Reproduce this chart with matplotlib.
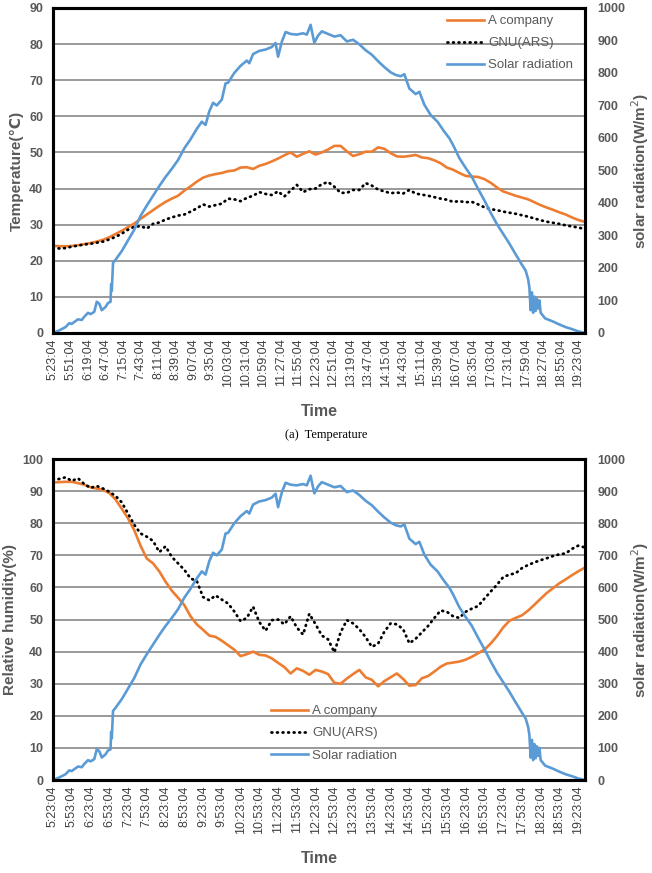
import numpy as np
import matplotlib
matplotlib.use("Agg")
from matplotlib import pyplot as plt

# time axis: minutes after 5:23:04, data read every 10 min
minutes = list(range(0, 851, 10))

# solar radiation (W/m2), same record in both panels, irregular sampling to keep the spikes
sol_t = [0, 10, 20, 26, 30, 40, 46, 50, 56, 60, 66, 70, 74, 78, 84, 88, 92, 93, 94, 96,
         100, 110, 120, 130, 140, 150, 160, 170, 180, 190, 200, 210, 220, 230, 238, 244,
         250, 256, 262, 270, 276, 280, 290, 300, 310, 314, 320, 330, 340, 350, 356, 360,
         366, 372, 380, 390, 400, 406, 412, 418, 424, 430, 440, 450, 460, 470, 480, 490,
         500, 510, 520, 530, 540, 548, 556, 562, 570, 580, 586, 594, 604, 615, 626, 634,
         640, 650, 660, 670, 680, 690, 700, 710, 720, 730, 740, 750, 756, 760, 762, 764,
         766, 768, 770, 772, 774, 776, 778, 780, 783, 787, 800, 810, 820, 830, 840, 851]
sol_v = [0, 8, 18, 30, 28, 42, 40, 50, 62, 58, 65, 96, 90, 70, 80, 92, 96, 150, 130, 215,
         225, 252, 285, 318, 360, 392, 422, 452, 480, 505, 532, 568, 596, 628, 650, 640,
         682, 708, 700, 718, 768, 770, 800, 822, 838, 830, 858, 868, 872, 880, 892, 850,
         896, 926, 920, 918, 922, 918, 948, 893, 915, 928, 920, 912, 916, 897, 902, 888,
         870, 856, 836, 818, 802, 794, 790, 796, 752, 735, 742, 702, 671, 650, 619, 599,
         578, 538, 508, 480, 443, 408, 370, 335, 305, 275, 242, 210, 192, 165, 140, 70,
         125, 62, 112, 68, 105, 75, 100, 62, 55, 45, 35, 26, 18, 12, 5, 0]

temp_a = [24.2, 24.0, 24.0, 24.1, 24.3, 24.6, 24.9, 25.3, 25.8, 26.5, 27.4, 28.3, 29.3, 30.3,
          31.6, 32.8, 34.0, 35.2, 36.3, 37.2, 38.0, 39.4, 40.6, 41.9, 43.0, 43.6, 44.0, 44.3,
          44.8, 45.0, 45.8, 45.9, 45.4, 46.3, 46.8, 47.5, 48.3, 49.2, 50.0, 48.8, 49.6, 50.3,
          49.4, 50.0, 50.8, 51.8, 51.8, 50.3, 49.0, 49.5, 50.2, 50.2, 51.4, 51.0, 49.8, 48.9,
          48.8, 49.0, 49.3, 48.6, 48.4, 47.8, 47.0, 45.8, 45.2, 44.3, 43.5, 43.3, 43.2, 42.6,
          41.6, 40.3, 39.2, 38.6, 38.0, 37.5, 37.0, 36.2, 35.4, 34.7, 34.1, 33.4, 32.8, 32.0,
          31.3, 30.8]
temp_gnu = [23.6, 23.4, 23.5, 23.9, 24.2, 24.5, 24.7, 25.0, 25.3, 25.9, 26.6, 27.5, 28.6, 29.4,
            29.6, 28.9, 30.2, 30.6, 31.4, 32.0, 32.5, 32.8, 33.6, 34.5, 35.6, 35.0, 35.4, 35.8,
            37.2, 37.0, 36.5, 37.4, 38.0, 39.0, 38.5, 38.2, 39.2, 37.8, 39.4, 41.0, 39.0, 39.8,
            40.0, 41.2, 41.8, 40.5, 38.8, 38.8, 39.6, 39.6, 41.5, 40.8, 39.7, 39.2, 38.7, 38.9,
            38.6, 39.6, 38.6, 38.3, 38.0, 37.6, 37.2, 36.9, 36.3, 36.5, 36.2, 36.3, 35.6, 34.8,
            34.3, 34.0, 33.6, 33.3, 33.0, 32.6, 32.2, 31.7, 31.2, 30.8, 30.5, 30.2, 29.8, 29.5,
            29.2, 28.8]

rh_a = [92.7, 92.8, 92.9, 92.9, 92.5, 92.0, 91.2, 90.8, 90.4, 89.4, 87.4, 84.5, 81.5, 77.8,
        73.0, 69.0, 67.5, 65.0, 61.8, 59.0, 56.8, 54.5, 51.0, 48.5, 46.8, 45.0, 44.6, 43.4,
        42.0, 40.6, 38.6, 39.2, 40.0, 39.0, 38.8, 37.9, 36.5, 35.2, 33.2, 34.8, 34.0, 32.8,
        34.3, 33.8, 33.0, 30.3, 30.0, 31.6, 33.0, 34.3, 32.0, 31.2, 29.2, 30.8, 32.0, 33.2,
        31.5, 29.4, 29.6, 31.7, 32.4, 33.8, 35.3, 36.3, 36.6, 36.9, 37.5, 38.4, 39.5, 40.6,
        42.5, 44.8, 47.5, 49.6, 50.5, 51.3, 52.8, 54.6, 56.5, 58.3, 59.8, 61.3, 62.5, 63.8,
        65.0, 66.1]
rh_gnu = [93.5, 93.8, 94.3, 93.2, 94.0, 92.2, 91.0, 91.6, 90.8, 89.8, 88.5, 86.5, 83.0, 79.5,
          76.8, 75.8, 74.5, 71.0, 72.8, 69.5, 67.5, 65.5, 62.8, 62.0, 57.0, 56.0, 57.5, 56.2,
          55.0, 52.5, 49.5, 50.5, 54.0, 49.2, 46.5, 49.8, 50.0, 48.5, 51.0, 47.5, 45.3, 51.8,
          48.5, 45.0, 43.8, 39.8, 46.0, 49.8, 48.8, 47.0, 44.5, 41.5, 42.5, 46.2, 48.8, 48.5,
          47.0, 42.6, 44.0, 46.0, 48.0, 50.5, 52.8, 52.4, 51.0, 50.5, 52.4, 53.4, 54.2, 56.5,
          58.7, 60.8, 63.2, 64.0, 64.4, 66.0, 67.0, 67.8, 68.5, 69.1, 69.8, 70.3, 70.6, 72.0,
          73.0, 72.5]

top_ticks = ['5:23:04', '5:51:04', '6:19:04', '6:47:04', '7:15:04', '7:43:04', '8:11:04',
             '8:39:04', '9:07:04', '9:35:04', '10:03:04', '10:31:04', '10:59:04', '11:27:04',
             '11:55:04', '12:23:04', '12:51:04', '13:19:04', '13:47:04', '14:15:04', '14:43:04',
             '15:11:04', '15:39:04', '16:07:04', '16:35:04', '17:03:04', '17:31:04', '17:59:04',
             '18:27:04', '18:55:04', '19:23:04']
bot_ticks = ['5:23:04', '5:53:04', '6:23:04', '6:53:04', '7:23:04', '7:53:04', '8:23:04',
             '8:53:04', '9:23:04', '9:53:04', '10:23:04', '10:53:04', '11:23:04', '11:53:04',
             '12:23:04', '12:53:04', '13:23:04', '13:53:04', '14:23:04', '14:53:04', '15:23:04',
             '15:53:04', '16:23:04', '16:53:04', '17:23:04', '17:53:04', '18:23:04', '18:53:04',
             '19:23:04']

ORANGE = '#ED7D31'
BLUE = '#5B9BD5'
GREY = '#595959'
plt.rcParams['font.family'] = ['Liberation Sans', 'DejaVu Sans']

fig = plt.figure(figsize=(6.52, 8.73), dpi=100)


def panel(rect, y_a, y_gnu, ymax, ylabel, tick_labels, step):
    ax = fig.add_axes(rect)
    ax.set_xlim(0, 851)
    ax.set_ylim(0, ymax)
    ax.set_yticks(np.arange(0, ymax + 1, 10))
    ax.grid(axis='y', color='#7f7f7f', lw=1.1)
    ax.set_axisbelow(True)
    l1, = ax.plot(minutes, y_a, color=ORANGE, lw=1.9, label='A company', zorder=3)
    l2, = ax.plot(minutes, y_gnu, color='black', lw=2.0, label='GNU(ARS)',
                  linestyle=(0, (0.3, 1.7)), dash_capstyle='round', zorder=3)
    ax.set_xticks(np.arange(len(tick_labels)) * step)
    ax.set_xticklabels(tick_labels, rotation=90, fontsize=9, color='#404040')
    ax.tick_params(axis='x', length=0, pad=4)
    ax.tick_params(axis='y', length=0, pad=7, labelsize=9, labelcolor=GREY)
    for t in ax.get_yticklabels():
        t.set_fontweight('bold')
    ax.set_ylabel(ylabel, fontsize=11, fontweight='bold', color=GREY, labelpad=4)
    ax.set_xlabel('Time', fontsize=11.5, fontweight='bold', color=GREY, labelpad=12)
    for s in ax.spines.values():
        s.set_linewidth(2.2)
        s.set_color('black')

    ax2 = ax.twinx()
    ax2.set_ylim(0, 1000)
    ax2.set_yticks(np.arange(0, 1001, 100))
    l3, = ax2.plot(sol_t, sol_v, color=BLUE, lw=1.9, label='Solar radiation')
    ax2.tick_params(axis='y', length=0, pad=9, labelsize=9, labelcolor=GREY)
    for t in ax2.get_yticklabels():
        t.set_fontweight('bold')
    ax2.set_ylabel('solar radiation(W/m$^2$)', fontsize=11, fontweight='bold', color=GREY,
                   labelpad=3)
    for s in ax2.spines.values():
        s.set_linewidth(2.2)
    return ax2, [l1, l2, l3]


ax_t, h = panel([0.0813, 0.6186, 0.816, 0.3723], temp_a, temp_gnu, 90,
                'Temperature(\u2103)', top_ticks, 28)
leg = ax_t.legend(h, [x.get_label() for x in h], loc='upper right', bbox_to_anchor=(1.0, 1.015),
                  frameon=False, fontsize=9.5, handlelength=2.8, handletextpad=0.3,
                  labelspacing=0.75)
for t in leg.get_texts():
    t.set_color(GREY)

fig.text(0.5, 0.502, '(a)  Temperature', ha='center', va='center', fontsize=9,
         family='Liberation Serif')

ax_h, h = panel([0.0813, 0.1065, 0.816, 0.3677], rh_a, rh_gnu, 100,
                'Relative humidity(%)', bot_ticks, 30)
leg = ax_h.legend(h, [x.get_label() for x in h], loc='upper left', bbox_to_anchor=(0.40, 0.25),
                  frameon=False, fontsize=9.5, handlelength=2.8, handletextpad=0.3,
                  labelspacing=0.75, borderaxespad=0)
for t in leg.get_texts():
    t.set_color(GREY)

fig.savefig('out.png', dpi=100)
